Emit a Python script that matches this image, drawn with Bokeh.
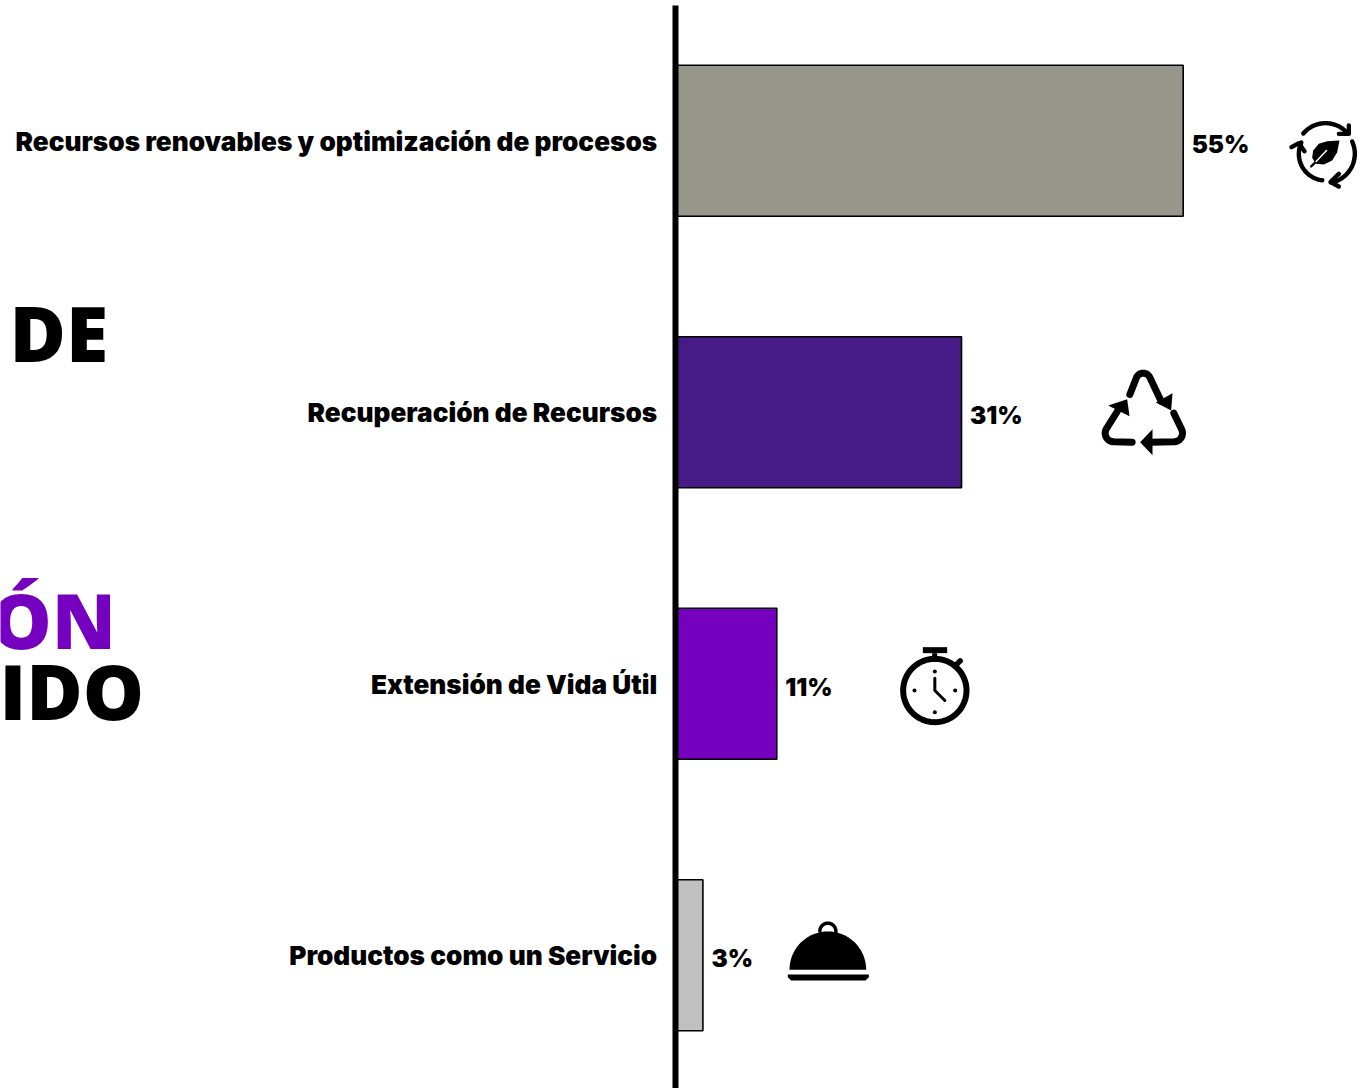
import numpy as np
from bokeh.plotting import figure
from bokeh.models import Range1d, FixedTicker, ColumnDataSource
from bokeh.embed import file_html
from bokeh.resources import INLINE
from bokeh.core.properties import value

categories = ["Recursos renovables y optimización de procesos", "Recuperación de Recursos",
              "Extensión de Vida Útil", "Productos como un Servicio"]
shares = [55, 31, 11, 3]
share_labels = ["55%", "31%", "11%", "3%"]
bar_colors = ["#97968a", "#461b85", "#7500c0", "#c0c0c0"]
headline_words = ["DE", "ÓN", "IDO"]
headline_colors = ["#000000", "#7500c0", "#000000"]

W, H = 1372, 1088
FONT = "Inter Black"
HFONT = "Open Sans ExtraBold"
ZERO_PX, PX_PER_PCT = 674.7, 9.236
ROW0_PX, ROW_PX = 140.2, 271.5

p = figure(width=W, height=H, output_backend="svg", toolbar_location=None,
           x_range=Range1d(-ZERO_PX / PX_PER_PCT, (W - ZERO_PX) / PX_PER_PCT),
           y_range=Range1d((H - ROW0_PX) / ROW_PX, -ROW0_PX / ROW_PX),
           min_border=0, outline_line_color=None, background_fill_color="white")
p.styles = {"position": "absolute", "left": "0", "top": "0"}
p.extra_x_ranges["px"] = Range1d(0, W)
p.extra_y_ranges["px"] = Range1d(H, 0)
p.grid.visible = False
p.xaxis.visible = False

rows = list(range(len(categories)))
p.hbar(y=rows, left=0, right=shares, height=151 / ROW_PX, fill_color=bar_colors,
       line_color="black", line_width=1.6)

src = ColumnDataSource(dict(x=shares, y=rows, t=share_labels))
p.text("x", "y", text="t", source=src, x_offset=8.5, y_offset=3, text_baseline="middle",
       text_font=value(FONT), text_font_style="bold", text_font_size="24.3px", text_color="black")

label_nudge = 0.7 / ROW_PX
label_ticks = [r + label_nudge for r in rows]
ax = p.yaxis[0]
ax.fixed_location = 0
ax.ticker = FixedTicker(ticks=label_ticks)
ax.major_label_overrides = {t: c for t, c in zip(label_ticks, categories)}
ax.major_tick_line_color = None
ax.minor_tick_line_color = None
ax.major_tick_out = 0
ax.major_label_standoff = 18
ax.axis_line_color = "black"
ax.axis_line_width = 6
ax.bounds = (-135.5 / ROW_PX, 3.49)
ax.major_label_text_font = FONT
ax.major_label_text_font_style = "bold"
ax.major_label_text_font_size = "26.2px"
ax.major_label_text_color = "black"

PX = dict(x_range_name="px", y_range_name="px")

head_x = [9, -10, -1]
head_y = [332, 619, 690]
p.text(head_x, head_y, text=headline_words, text_color=headline_colors, text_font=value(HFONT),
       text_font_style="bold", text_font_size="77px", text_baseline="alphabetic", **PX)


def at(ox, oy, pts):
    a = np.array(pts, dtype=float)
    return list(ox + a[:, 0] / 3), list(oy + a[:, 1] / 3)


def arc(cx, cy, r, a0, a1, n=40):
    t = np.radians(np.linspace(a0, a1, n))
    return list(zip(cx + r * np.cos(t), cy + r * np.sin(t)))


def stroke(ox, oy, pts, w, color="black"):
    x, y = at(ox, oy, pts)
    p.line(x, y, line_width=w, line_color=color, line_cap="round", line_join="round", **PX)


def fill(ox, oy, pts, color="black"):
    x, y = at(ox, oy, pts)
    p.patch(x, y, fill_color=color, line_color=None, **PX)


# leaf-cycle icon
o = (1270, 100)
stroke(*o, arc(165, 155, 87, 220, 320), 4.4)
stroke(*o, [(235, 75), (235, 100), (205, 100)], 4.4)
stroke(*o, arc(165, 160, 88, -25, 79), 4.4)
stroke(*o, [(205, 220), (180, 245), (205, 258)], 4.4)
stroke(*o, arc(165, 160, 80, 97, 205), 4.4)
stroke(*o, [(63, 140), (85, 128), (102, 152)], 4.4)
fill(*o, [(207, 120), (170, 122), (145, 130), (128, 150), (125, 172), (136, 190), (160, 192), (185, 180), (200, 155)])
stroke(*o, [(122, 198), (135, 185)], 2.4)
stroke(*o, [(137, 183), (168, 150)], 1.5, "white")

# recycling icon
o = (1090, 360)
stroke(*o, [(118, 102)] + arc(158, 60, 22, 210, 330, 16) + [(212, 122)], 7)
fill(*o, [(196, 126), (246, 98), (242, 150)])
stroke(*o, [(250, 158)] + arc(250, 218, 26, -30, 90, 16) + [(180, 245)], 7)
fill(*o, [(186, 206), (149, 245), (186, 284)])
stroke(*o, [(125, 245)] + arc(70, 218, 26, 90, 210, 16) + [(82, 150)], 7)
fill(*o, [(53, 135), (110, 116), (117, 167)])

# stopwatch icon
o = (885, 635)
stroke(*o, arc(148, 165, 95, 0, 360, 90), 6)
fill(*o, [(112, 35), (185, 35), (185, 53), (112, 53)])
fill(*o, [(140, 53), (155, 53), (155, 72), (140, 72)])
stroke(*o, [(208, 92), (224, 76)], 5.5)
for d in [(148, 108), (148, 230), (87, 165), (209, 165)]:
    stroke(*o, [d, d], 4)
stroke(*o, [(148, 128), (148, 165), (178, 195)], 3)

# cloche icon
o = (775, 910)
fill(*o, arc(157, 178, 115, 180, 360, 60))
stroke(*o, arc(157, 62, 24, 180, 360, 30) + [(181, 75), (133, 75)], 3.5)
fill(*o, [(37, 192), (280, 192), (280, 200), (270, 210), (47, 210), (37, 200)])

open("out.html", "w").write(file_html(p, INLINE))
